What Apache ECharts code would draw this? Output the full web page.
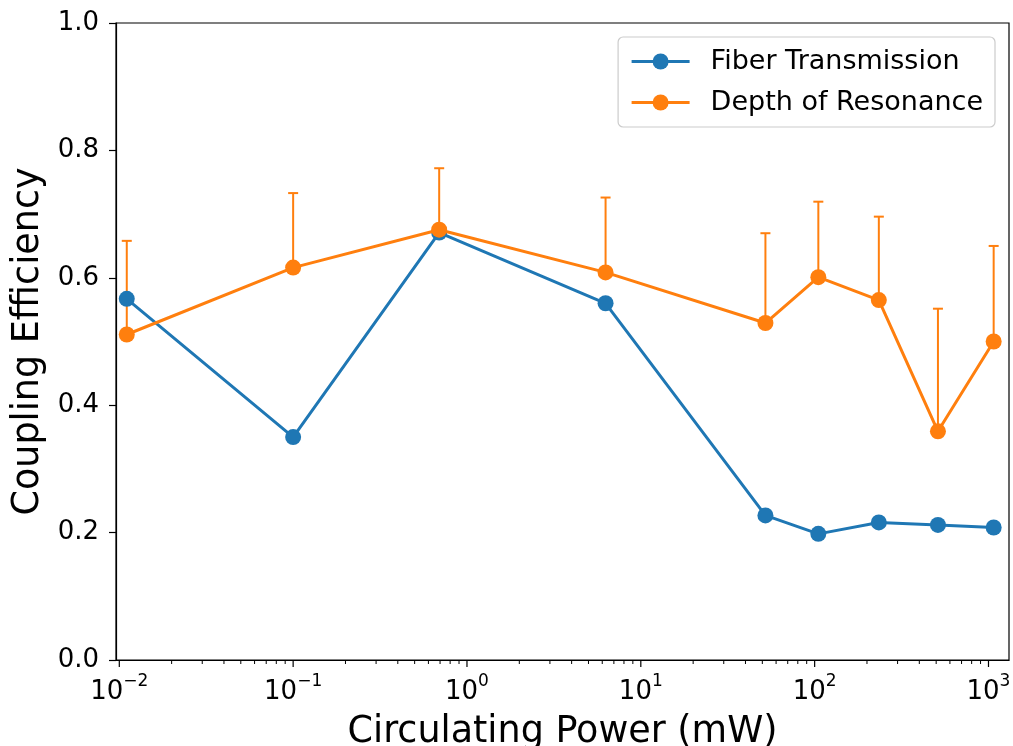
<!DOCTYPE html>
<html><head><meta charset="utf-8">
<script src="https://cdn.jsdelivr.net/npm/echarts@6/dist/echarts.min.js"></script>
<style>html,body{margin:0;padding:0;background:#fff}#c{width:1013px;height:746px}</style>
</head><body><div id="c"></div>
<script>
// ---- data ----
const power = [0.01104, 0.1, 0.692, 6.27, 52.1, 105, 234, 512, 1071];          // mW
const fiberTransmission = [0.567, 0.350, 0.671, 0.560, 0.227, 0.198, 0.216, 0.212, 0.208];
const depthOfResonance  = [0.511, 0.616, 0.6755, 0.6085, 0.529, 0.601, 0.565, 0.359, 0.500];
const depthUpper        = [0.658, 0.733, 0.772, 0.726, 0.670, 0.7195, 0.696, 0.5515, 0.650];
const xMajorExponents = [-2, -1, 0, 1, 2, 3];
const xMajorLabels = ['\u22122', '\u22121', '0', '1', '2', '3'];
const yTicks = [0, 0.2, 0.4, 0.6, 0.8, 1.0];

const FONT = 'DejaVu Sans';
const BLUE = '#1f77b4', ORANGE = '#ff7f0e';
const X_MIN = Math.pow(10, -2.019), X_MAX = Math.pow(10, 3.118);

// ticks (major + minor) on the log axis
const tickData = [];
for (let e = -3; e <= 3; e++) {
  for (let k = 1; k <= 9; k++) {
    const v = k * Math.pow(10, e);
    if (v >= X_MIN && v <= X_MAX) tickData.push([v, k === 1 ? 1 : 0]);
  }
}
const labelData = xMajorExponents.map((e, i) => [Math.pow(10, e), i]);

const chart = echarts.init(document.getElementById('c'), null, {renderer: 'canvas'});
chart.setOption({
  animation: false,
  backgroundColor: '#fff',
  textStyle: {fontFamily: FONT},
  grid: {left: 116, right: 4, top: 23, bottom: 86, show: true, borderColor: '#000', borderWidth: 1.2,
         backgroundColor: 'transparent', containLabel: false, outerBoundsMode: 'none'},
  legend: {
    data: ['Fiber Transmission', 'Depth of Resonance'],
    orient: 'vertical', right: 18, top: 37,
    itemWidth: 58, itemHeight: 20, itemGap: 14,
    padding: [11, 12, 11, 12],
    lineStyle: {width: 3},
    borderColor: '#cccccc', borderWidth: 1.2, borderRadius: 5, backgroundColor: '#fff',
    textStyle: {fontFamily: FONT, fontSize: 27, color: '#000', padding: [0, 0, 0, 16]}
  },
  xAxis: {
    type: 'log', logBase: 10, min: X_MIN, max: X_MAX,
    name: 'Circulating Power (mW)', nameLocation: 'middle', nameGap: 54,
    nameTextStyle: {fontFamily: FONT, fontSize: 36.5, color: '#000'},
    axisLine: {show: true, lineStyle: {color: '#000', width: 1.2}},
    axisTick: {show: false}, axisLabel: {show: false}, splitLine: {show: false}, minorTick: {show: false}
  },
  yAxis: {
    type: 'value', min: 0, max: 1, interval: 0.2,
    name: 'Coupling Efficiency', nameLocation: 'middle', nameGap: 68,
    nameTextStyle: {fontFamily: FONT, fontSize: 36.5, color: '#000'},
    axisLine: {show: true, lineStyle: {color: '#000', width: 1.2}},
    axisTick: {show: true, length: 7, lineStyle: {color: '#000', width: 1.2}},
    axisLabel: {fontFamily: FONT, fontSize: 26, color: '#000', margin: 17, formatter: v => v.toFixed(1)},
    splitLine: {show: false}
  },
  series: [
    {
      name: 'errbars', type: 'custom', z: 2, silent: true,
      data: power.map((x, i) => [x, depthOfResonance[i], depthUpper[i]]),
      renderItem: (params, api) => {
        const p0 = api.coord([api.value(0), api.value(1)]);
        const p1 = api.coord([api.value(0), api.value(2)]);
        const st = {stroke: ORANGE, lineWidth: 2};
        return {type: 'group', children: [
          {type: 'line', shape: {x1: p0[0], y1: p0[1], x2: p1[0], y2: p1[1]}, style: st},
          {type: 'line', shape: {x1: p1[0] - 5, y1: p1[1], x2: p1[0] + 5, y2: p1[1]}, style: st}
        ]};
      }
    },
    {
      name: 'Fiber Transmission', type: 'line', z: 3,
      data: power.map((x, i) => [x, fiberTransmission[i]]),
      symbol: 'circle', symbolSize: 16, showAllSymbol: true,
      itemStyle: {color: BLUE}, lineStyle: {color: BLUE, width: 3}
    },
    {
      name: 'Depth of Resonance', type: 'line', z: 4,
      data: power.map((x, i) => [x, depthOfResonance[i]]),
      symbol: 'circle', symbolSize: 16, showAllSymbol: true,
      itemStyle: {color: ORANGE}, lineStyle: {color: ORANGE, width: 3}
    },
    {
      name: 'xticks', type: 'custom', silent: true, clip: false, z: 5,
      data: tickData,
      renderItem: (params, api) => {
        const p = api.coord([api.value(0), 0]);
        const major = api.value(1) === 1;
        return {type: 'line', shape: {x1: p[0], y1: p[1], x2: p[0], y2: p[1] + (major ? 7 : 4)},
          style: {stroke: '#000', lineWidth: major ? 1.2 : 1}};
      }
    },
    {
      name: 'xlabels', type: 'custom', silent: true, clip: false, z: 5,
      data: labelData,
      renderItem: (params, api) => {
        const p = api.coord([api.value(0), 0]);
        const lab = xMajorLabels[api.value(1)];
        return {type: 'text', x: p[0], y: p[1] + 13, style: {
          text: '{b|10}{s|' + lab + '}', align: 'center', verticalAlign: 'top',
          rich: {
            b: {fontFamily: FONT, fontSize: 26, lineHeight: 32, color: '#000', verticalAlign: 'bottom'},
            s: {fontFamily: FONT, fontSize: 17, lineHeight: 17, color: '#000', verticalAlign: 'top'}
          }
        }};
      }
    }
  ]
});
</script></body></html>
